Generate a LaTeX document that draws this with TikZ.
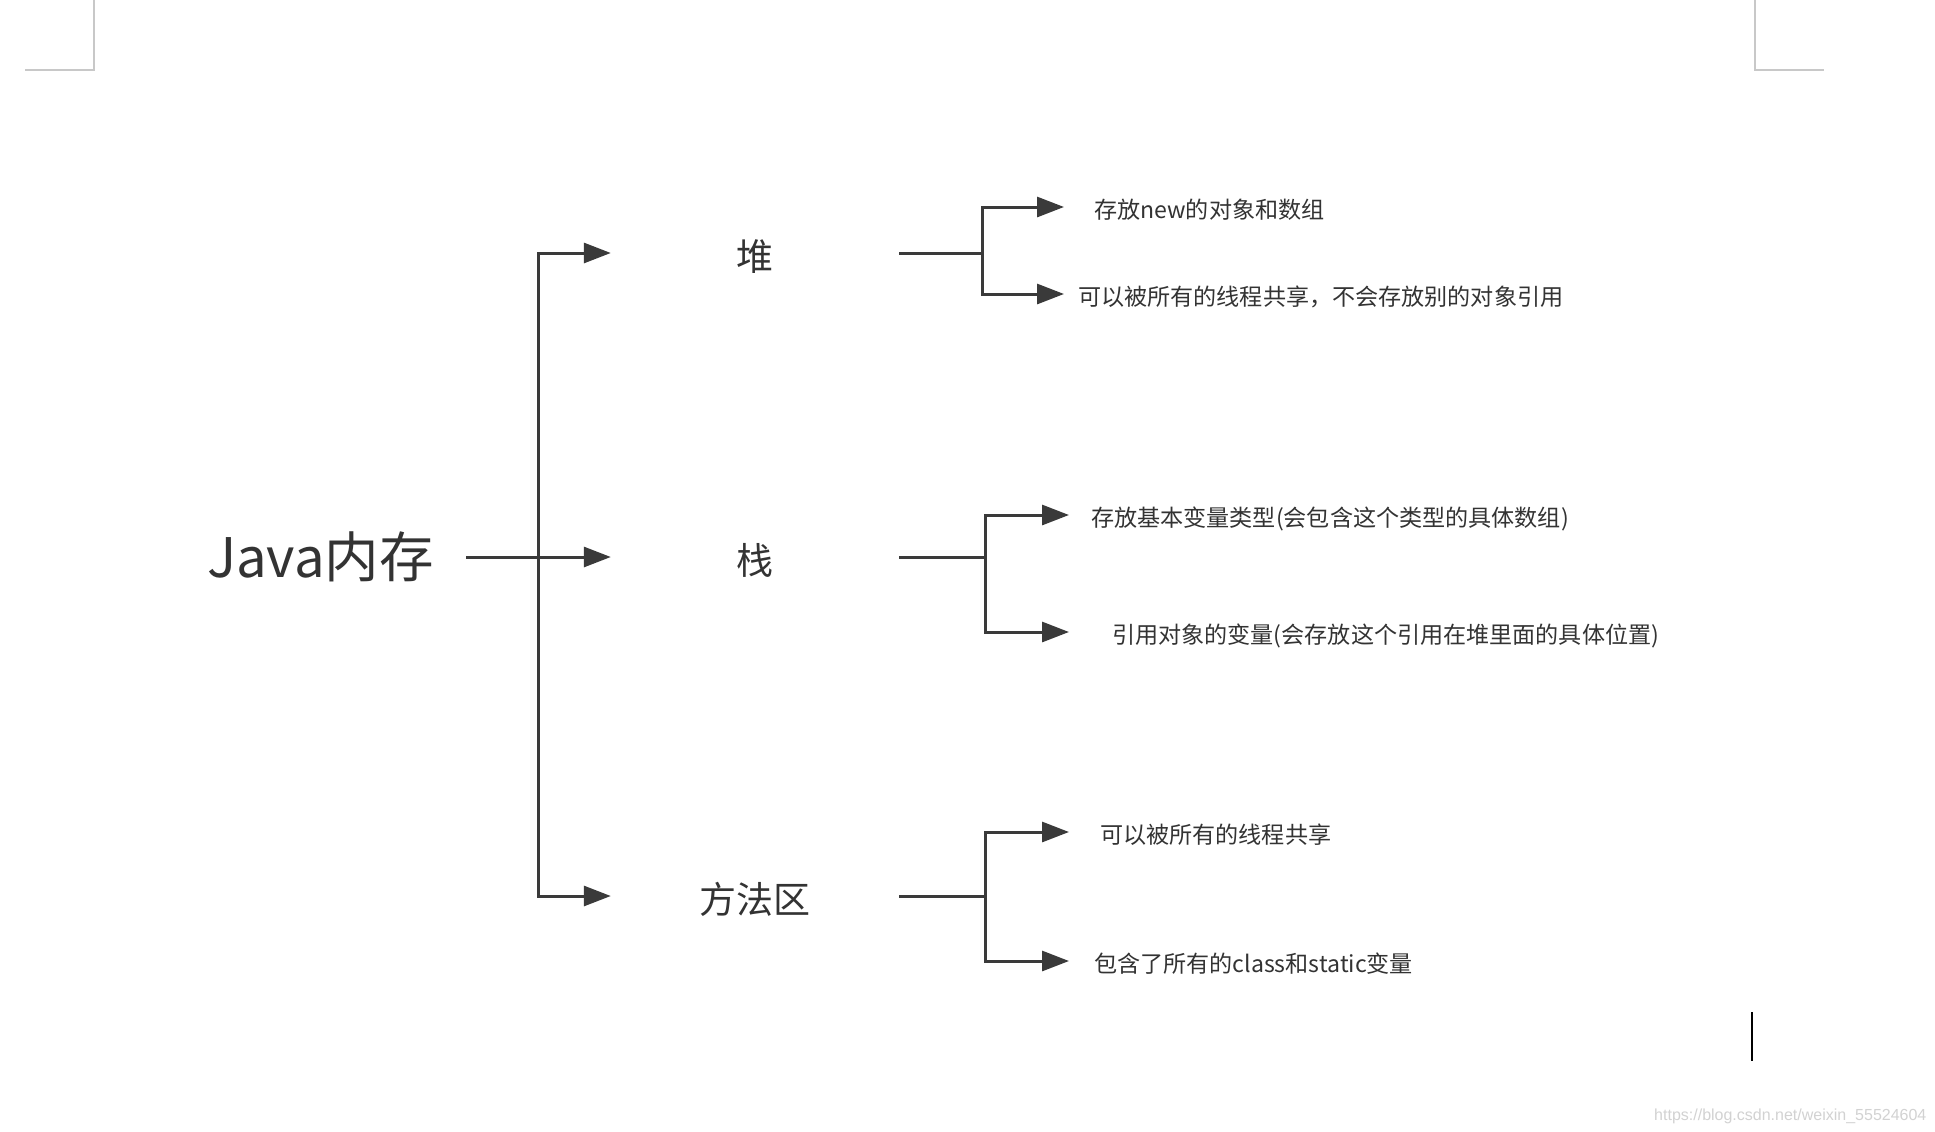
\documentclass[tikz,border=0pt]{standalone}
\usepackage{fontspec}
\setmainfont{Noto Sans CJK SC}
\newfontfamily\wmfont{Liberation Sans}
\usetikzlibrary{arrows.meta}
\definecolor{ink}{HTML}{3A3A3A}
\definecolor{txt}{HTML}{333333}
\definecolor{cornergrey}{HTML}{C8C8C8}
\definecolor{wmgrey}{HTML}{D2D2D2}
\tikzset{
  conn/.style={draw=ink, line width=3pt},
  arr/.style={conn, -{Triangle[length=27pt,width=20pt]}},
  rootbox/.style={inner sep=0pt, inner xsep=32pt, text=txt, font=\fontsize{54.5}{60}\selectfont},
  midbox/.style={inner sep=0pt, minimum width=288pt, text height=37pt, text depth=2pt, text=txt, font=\fontsize{37}{42}\selectfont},
  leafbox/.style={inner sep=0pt, anchor=west, text height=24pt, text depth=1.6pt, text=txt, font=\fontsize{23.1}{27}\selectfont},
  cornerline/.style={draw=cornergrey, line width=2pt},
}
\begin{document}
\begin{tikzpicture}[x=1pt,y=-1pt]
\fill[white] (0,0) rectangle (1935,1132);
\useasboundingbox (0,0) rectangle (1935,1132);
% page corner marks
\draw[cornerline] (94,0) -- (94,70) -- (25,70);
\draw[cornerline] (1755,0) -- (1755,70) -- (1824,70);
% cursor
\draw[black, line width=2.5pt] (1752,1012) -- (1752,1061);
% watermark
\node[text=wmgrey, font=\wmfont\fontsize{16}{18}\selectfont, anchor=west, inner sep=0pt] (wmark) at (1654,1116) {https://blog.csdn.net/weixin\_55524604};

% nodes
\node[rootbox, anchor=east] (root) at (466,557) {Java内存};
\node[midbox] (heap) at (755,253) {堆};
\node[midbox] (stack) at (755,557) {栈};
\node[midbox] (method) at (755,896) {方法区};

\node[leafbox, inner xsep=30pt] (h1) at (1064,207) {存放new的对象和数组};
\node[leafbox, inner xsep=14pt] (h2) at (1064,294) {可以被所有的线程共享，不会存放别的对象引用};
\node[leafbox, inner xsep=22pt] (s1) at (1069,515) {存放基本变量类型(会包含这个类型的具体数组)};
\node[leafbox, inner xsep=43pt] (s2) at (1069,632) {引用对象的变量(会存放这个引用在堆里面的具体位置)};
\node[leafbox, inner xsep=31pt] (m1) at (1069,832) {可以被所有的线程共享};
\node[leafbox, inner xsep=25pt] (m2) at (1069,961) {包含了所有的class和static变量};

% junctions
\coordinate (tr) at (538,557);
\coordinate (hb) at (982,253);
\coordinate (sb) at (985,557);
\coordinate (mb) at (985,896);

% connectors
\draw[arr] (root.east) -- (stack.west);
\draw[arr] (tr) |- (heap.west);
\draw[arr] (tr) |- (method.west);

\draw[conn] (heap.east) -- (hb);
\draw[arr] (hb) |- (h1.west);
\draw[arr] (hb) |- (h2.west);

\draw[conn] (stack.east) -- (sb);
\draw[arr] (sb) |- (s1.west);
\draw[arr] (sb) |- (s2.west);

\draw[conn] (method.east) -- (mb);
\draw[arr] (mb) |- (m1.west);
\draw[arr] (mb) |- (m2.west);
\end{tikzpicture}
\end{document}
